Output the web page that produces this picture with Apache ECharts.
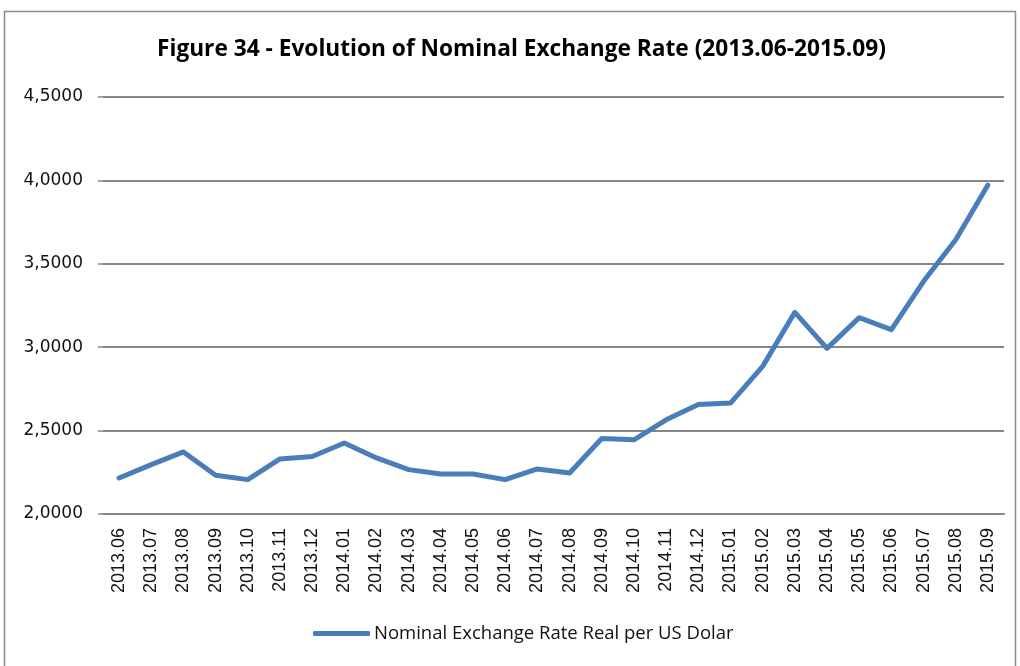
<!DOCTYPE html>
<html>
<head>
<meta charset="utf-8">
<script src="https://cdn.jsdelivr.net/npm/echarts@6/dist/echarts.min.js"></script>
<style>
  html, body { margin: 0; padding: 0; background: #fff; }
  #chart { width: 1020px; height: 666px; }
</style>
</head>
<body>
<div id="chart"></div>
<script>
// Monthly periods, 2013.06 through 2015.09
const months = [
  '2013.06','2013.07','2013.08','2013.09','2013.10','2013.11','2013.12',
  '2014.01','2014.02','2014.03','2014.04','2014.05','2014.06','2014.07',
  '2014.08','2014.09','2014.10','2014.11','2014.12',
  '2015.01','2015.02','2015.03','2015.04','2015.05','2015.06','2015.07',
  '2015.08','2015.09'
];

// Nominal exchange rate, Real per US Dollar
const rateBRL = [
  2.216, 2.296, 2.372, 2.232, 2.206, 2.330, 2.345,
  2.426, 2.336, 2.266, 2.240, 2.240, 2.206, 2.270,
  2.246, 2.453, 2.445, 2.565, 2.657,
  2.665, 2.885, 3.209, 2.993, 3.177, 3.105, 3.395,
  3.644, 3.972
];

const seriesName = 'Nominal Exchange Rate Real per US Dolar';
const titleText = 'Figure 34 - Evolution of Nominal Exchange Rate (2013.06-2015.09)';

const chart = echarts.init(document.getElementById('chart'), null, { renderer: 'canvas' });

chart.setOption({
  animation: false,
  backgroundColor: '#ffffff',
  graphic: [{
    type: 'rect',
    shape: { x: 4.5, y: 11.5, width: 1011, height: 700 },
    style: { fill: 'none', stroke: '#8c8c8c', lineWidth: 1.5 },
    silent: true
  }],
  title: {
    text: titleText,
    left: 157,
    top: 38,
    padding: 0,
    textStyle: {
      fontFamily: '"Open Sans", sans-serif',
      fontWeight: 'bold',
      fontSize: 22.7,
      color: '#000'
    }
  },
  legend: {
    data: [seriesName],
    left: 313,
    top: 624,
    padding: 0,
    itemWidth: 57,
    itemHeight: 5,
    itemGap: 4,
    icon: 'roundRect',
    textStyle: {
      fontFamily: '"Open Sans", sans-serif',
      fontSize: 18.5,
      color: '#111',
      padding: [0, 0, 0, -1]
    }
  },
  grid: {
    left: 103,
    right: 16,
    top: 97,
    bottom: 152,
    containLabel: false
  },
  xAxis: {
    type: 'category',
    data: months,
    boundaryGap: true,
    axisLine: { show: true, lineStyle: { color: '#868686', width: 2 } },
    axisTick: { show: false },
    axisLabel: {
      rotate: 90,
      interval: 0,
      margin: 14,
      fontFamily: '"Liberation Sans", Arial, sans-serif',
      fontSize: 18,
      color: '#111'
    },
    splitLine: { show: false }
  },
  yAxis: {
    type: 'value',
    min: 2.0,
    max: 4.5,
    interval: 0.5,
    axisLine: { show: false },
    axisTick: { show: true, length: 5, lineStyle: { color: '#868686', width: 1.5 } },
    axisLabel: {
      margin: 20,
      fontFamily: '"DejaVu Sans", sans-serif',
      fontSize: 17,
      color: '#111',
      formatter: v => v.toFixed(4).replace('.', ',')
    },
    splitLine: { show: true, lineStyle: { color: '#868686', width: 2 } }
  },
  series: [{
    name: seriesName,
    type: 'line',
    data: rateBRL,
    symbol: 'none',
    lineStyle: { color: '#4a7ebb', width: 5, cap: 'round', join: 'round' },
    itemStyle: { color: '#4a7ebb' }
  }]
});
</script>
</body>
</html>
